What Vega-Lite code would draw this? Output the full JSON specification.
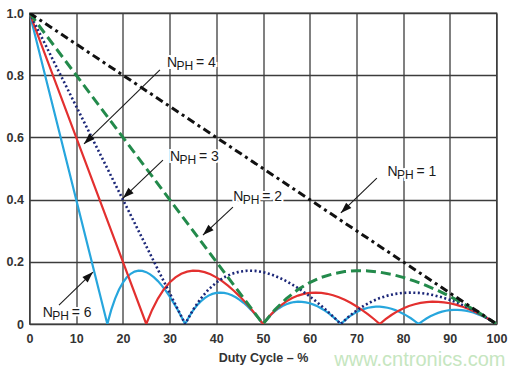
{
"$schema":"https://vega.github.io/schema/vega-lite/v6.json",
"width":467,"height":311,
"autosize":{"type":"none"},
"padding":{"left":29.5,"top":13,"right":25.5,"bottom":51},
"background":"white",
"config":{"view":{"stroke":"#3c3c3c","strokeWidth":1.3},"font":"Liberation Sans"},
"datasets":{
"n1":[{"d":0,"v":1},{"d":100,"v":0}],
"n2":[{"d":0,"v":1},{"d":50,"v":0},{"d":52.5,"v":0.0452},{"d":55,"v":0.0818},{"d":57.5,"v":0.1109},{"d":60,"v":0.1333},{"d":62.5,"v":0.15},{"d":65,"v":0.1615},{"d":67.5,"v":0.1685},{"d":70,"v":0.1714},{"d":72.5,"v":0.1707},{"d":75,"v":0.1667},{"d":77.5,"v":0.1597},{"d":80,"v":0.15},{"d":82.5,"v":0.1379},{"d":85,"v":0.1235},{"d":87.5,"v":0.1071},{"d":90,"v":0.0889},{"d":92.5,"v":0.0689},{"d":95,"v":0.0474},{"d":97.5,"v":0.0244},{"d":100,"v":0}],
"n3":[{"d":0,"v":1},{"d":33.333,"v":0},{"d":35,"v":0.0452},{"d":36.667,"v":0.0818},{"d":38.333,"v":0.1109},{"d":40,"v":0.1333},{"d":41.667,"v":0.15},{"d":43.333,"v":0.1615},{"d":45,"v":0.1685},{"d":46.667,"v":0.1714},{"d":48.333,"v":0.1707},{"d":50,"v":0.1667},{"d":51.667,"v":0.1597},{"d":53.333,"v":0.15},{"d":55,"v":0.1379},{"d":56.667,"v":0.1235},{"d":58.333,"v":0.1071},{"d":60,"v":0.0889},{"d":61.667,"v":0.0689},{"d":63.333,"v":0.0474},{"d":65,"v":0.0244},{"d":66.667,"v":0},
{"d":68.333,"v":0.0232},{"d":70,"v":0.0429},{"d":71.667,"v":0.0593},{"d":73.333,"v":0.0727},{"d":75,"v":0.0833},{"d":76.667,"v":0.0913},{"d":78.333,"v":0.0968},{"d":80,"v":0.1},{"d":81.667,"v":0.101},{"d":83.333,"v":0.1},{"d":85,"v":0.0971},{"d":86.667,"v":0.0923},{"d":88.333,"v":0.0858},{"d":90,"v":0.0778},{"d":91.667,"v":0.0682},{"d":93.333,"v":0.0571},{"d":95,"v":0.0447},{"d":96.667,"v":0.031},{"d":98.333,"v":0.0161},{"d":100,"v":0}],
"n4":[{"d":0,"v":1},{"d":25,"v":0},{"d":26.25,"v":0.0452},{"d":27.5,"v":0.0818},{"d":28.75,"v":0.1109},{"d":30,"v":0.1333},{"d":31.25,"v":0.15},{"d":32.5,"v":0.1615},{"d":33.75,"v":0.1685},{"d":35,"v":0.1714},{"d":36.25,"v":0.1707},{"d":37.5,"v":0.1667},{"d":38.75,"v":0.1597},{"d":40,"v":0.15},{"d":41.25,"v":0.1379},{"d":42.5,"v":0.1235},{"d":43.75,"v":0.1071},{"d":45,"v":0.0889},{"d":46.25,"v":0.0689},{"d":47.5,"v":0.0474},{"d":48.75,"v":0.0244},{"d":50,"v":0},
{"d":51.25,"v":0.0232},{"d":52.5,"v":0.0429},{"d":53.75,"v":0.0593},{"d":55,"v":0.0727},{"d":56.25,"v":0.0833},{"d":57.5,"v":0.0913},{"d":58.75,"v":0.0968},{"d":60,"v":0.1},{"d":61.25,"v":0.101},{"d":62.5,"v":0.1},{"d":63.75,"v":0.0971},{"d":65,"v":0.0923},{"d":66.25,"v":0.0858},{"d":67.5,"v":0.0778},{"d":68.75,"v":0.0682},{"d":70,"v":0.0571},{"d":71.25,"v":0.0447},{"d":72.5,"v":0.031},{"d":73.75,"v":0.0161},{"d":75,"v":0},
{"d":76.25,"v":0.0156},{"d":77.5,"v":0.029},{"d":78.75,"v":0.0405},{"d":80,"v":0.05},{"d":81.25,"v":0.0577},{"d":82.5,"v":0.0636},{"d":83.75,"v":0.0679},{"d":85,"v":0.0706},{"d":86.25,"v":0.0717},{"d":87.5,"v":0.0714},{"d":88.75,"v":0.0697},{"d":90,"v":0.0667},{"d":91.25,"v":0.0623},{"d":92.5,"v":0.0568},{"d":93.75,"v":0.05},{"d":95,"v":0.0421},{"d":96.25,"v":0.0331},{"d":97.5,"v":0.0231},{"d":98.75,"v":0.012},{"d":100,"v":0}],
"n6":[{"d":0,"v":1},{"d":16.667,"v":0},{"d":17.5,"v":0.0452},{"d":18.333,"v":0.0818},{"d":19.167,"v":0.1109},{"d":20,"v":0.1333},{"d":20.833,"v":0.15},{"d":21.667,"v":0.1615},{"d":22.5,"v":0.1685},{"d":23.333,"v":0.1714},{"d":24.167,"v":0.1707},{"d":25,"v":0.1667},{"d":25.833,"v":0.1597},{"d":26.667,"v":0.15},{"d":27.5,"v":0.1379},{"d":28.333,"v":0.1235},{"d":29.167,"v":0.1071},{"d":30,"v":0.0889},{"d":30.833,"v":0.0689},{"d":31.667,"v":0.0474},{"d":32.5,"v":0.0244},{"d":33.333,"v":0},
{"d":34.167,"v":0.0232},{"d":35,"v":0.0429},{"d":35.833,"v":0.0593},{"d":36.667,"v":0.0727},{"d":37.5,"v":0.0833},{"d":38.333,"v":0.0913},{"d":39.167,"v":0.0968},{"d":40,"v":0.1},{"d":40.833,"v":0.101},{"d":41.667,"v":0.1},{"d":42.5,"v":0.0971},{"d":43.333,"v":0.0923},{"d":44.167,"v":0.0858},{"d":45,"v":0.0778},{"d":45.833,"v":0.0682},{"d":46.667,"v":0.0571},{"d":47.5,"v":0.0447},{"d":48.333,"v":0.031},{"d":49.167,"v":0.0161},{"d":50,"v":0},
{"d":50.833,"v":0.0156},{"d":51.667,"v":0.029},{"d":52.5,"v":0.0405},{"d":53.333,"v":0.05},{"d":54.167,"v":0.0577},{"d":55,"v":0.0636},{"d":55.833,"v":0.0679},{"d":56.667,"v":0.0706},{"d":57.5,"v":0.0717},{"d":58.333,"v":0.0714},{"d":59.167,"v":0.0697},{"d":60,"v":0.0667},{"d":60.833,"v":0.0623},{"d":61.667,"v":0.0568},{"d":62.5,"v":0.05},{"d":63.333,"v":0.0421},{"d":64.167,"v":0.0331},{"d":65,"v":0.0231},{"d":65.833,"v":0.012},{"d":66.667,"v":0},
{"d":67.5,"v":0.0117},{"d":68.333,"v":0.022},{"d":69.167,"v":0.0307},{"d":70,"v":0.0381},{"d":70.833,"v":0.0441},{"d":71.667,"v":0.0488},{"d":72.5,"v":0.0523},{"d":73.333,"v":0.0545},{"d":74.167,"v":0.0556},{"d":75,"v":0.0556},{"d":75.833,"v":0.0544},{"d":76.667,"v":0.0522},{"d":77.5,"v":0.0489},{"d":78.333,"v":0.0447},{"d":79.167,"v":0.0395},{"d":80,"v":0.0333},{"d":80.833,"v":0.0263},{"d":81.667,"v":0.0184},{"d":82.5,"v":0.0096},{"d":83.333,"v":0},
{"d":84.167,"v":0.0094},{"d":85,"v":0.0176},{"d":85.833,"v":0.0248},{"d":86.667,"v":0.0308},{"d":87.5,"v":0.0357},{"d":88.333,"v":0.0396},{"d":89.167,"v":0.0425},{"d":90,"v":0.0444},{"d":90.833,"v":0.0454},{"d":91.667,"v":0.0455},{"d":92.5,"v":0.0446},{"d":93.333,"v":0.0429},{"d":94.167,"v":0.0403},{"d":95,"v":0.0368},{"d":95.833,"v":0.0326},{"d":96.667,"v":0.0276},{"d":97.5,"v":0.0218},{"d":98.333,"v":0.0153},{"d":99.167,"v":0.008},{"d":100,"v":0}],
"arrows":[{"n":"4","d":27.93,"v":0.817,"d2":11.67,"v2":0.579},{"n":"3","d":28.57,"v":0.527,"d2":20.03,"v2":0.405},{"n":"2","d":43.56,"v":0.376,"d2":37.14,"v2":0.286},{"n":"1","d":74.38,"v":0.469,"d2":66.67,"v2":0.357},{"n":"6","d":6.31,"v":0.061,"d2":13.59,"v2":0.167}],
"labels":[{"d":29.43,"v":0.839,"k":"= 4"},{"d":30.07,"v":0.537,"k":"= 3"},{"d":43.62,"v":0.408,"k":"= 2"},{"d":76.67,"v":0.489,"k":"= 1"},{"d":2.83,"v":0.035,"k":"= 6"}],
"wm":[{"d":83.6,"v":-0.117,"t":"www.cntronics.com"}]
},
"encoding":{
"x":{"field":"d","type":"quantitative","scale":{"domain":[0,100],"nice":false,"zero":false},
"axis":{"values":[0,10,20,30,40,50,60,70,80,90,100],"title":"Duty Cycle – %","grid":true,"gridColor":"#3c3c3c","gridWidth":1.3,"domain":false,"ticks":false,"tickSize":0,"labelPadding":8,"labelFontSize":12.5,"labelFontWeight":"bold","labelColor":"#333","labelFlush":false,"titleFontSize":12.5,"titleFontWeight":"bold","titleColor":"#333","titlePadding":7}},
"y":{"field":"v","type":"quantitative","scale":{"domain":[0,1],"nice":false},
"axis":{"values":[0,0.2,0.4,0.6,0.8,1],"labelExpr":"datum.value == 0 ? '0' : format(datum.value, '.1f')","title":null,"grid":true,"gridColor":"#3c3c3c","gridWidth":1.3,"domain":false,"ticks":false,"tickSize":0,"labelPadding":6,"labelFontSize":12.5,"labelFontWeight":"bold","labelColor":"#333","labelFlush":false}}
},
"layer":[
{"data":{"name":"n6"},"mark":{"type":"line","color":"#27a6dd","strokeWidth":2.2,"clip":true}},
{"data":{"name":"n4"},"mark":{"type":"line","color":"#e3302f","strokeWidth":2.2,"clip":true}},
{"data":{"name":"n3"},"mark":{"type":"line","color":"#1c2778","strokeWidth":2.6,"strokeDash":[2,2.5],"clip":true}},
{"data":{"name":"n2"},"mark":{"type":"line","color":"#238a4b","strokeWidth":3,"strokeDash":[10,5],"clip":true}},
{"data":{"name":"n1"},"mark":{"type":"line","color":"#111111","strokeWidth":3,"strokeDash":[8,4,3,4],"clip":true}},
{"data":{"name":"arrows"},"mark":{"type":"rule","color":"#1a1a1a","strokeWidth":1.1},"encoding":{"x2":{"field":"d2"},"y2":{"field":"v2"}}},
{"data":{"name":"arrows"},"transform":[{"calculate":"atan2((datum.d2 - datum.d) * 4.67, (datum.v2 - datum.v) * 311) * 180 / PI","as":"ang"}],
 "mark":{"type":"point","shape":"M0,0L-0.75,2.2L0.75,2.2Z","filled":true,"color":"#111111","size":100,"opacity":1,"strokeWidth":0},
 "encoding":{"x":{"field":"d2","type":"quantitative"},"y":{"field":"v2","type":"quantitative"},"angle":{"field":"ang","type":"quantitative","scale":null}}},
{"data":{"name":"labels"},"mark":{"type":"text","text":"N","align":"left","baseline":"middle","fontSize":14,"fill":"white","stroke":"white","strokeWidth":4}},
{"data":{"name":"labels"},"mark":{"type":"text","text":"PH","align":"left","baseline":"middle","fontSize":12,"dx":9.5,"dy":3,"fill":"white","stroke":"white","strokeWidth":4}},
{"data":{"name":"labels"},"mark":{"type":"text","align":"left","baseline":"middle","fontSize":14,"dx":29,"fill":"white","stroke":"white","strokeWidth":4},"encoding":{"text":{"field":"k"}}},
{"data":{"name":"labels"},"mark":{"type":"text","text":"N","align":"left","baseline":"middle","fontSize":14,"color":"#1a1a1a"}},
{"data":{"name":"labels"},"mark":{"type":"text","text":"PH","align":"left","baseline":"middle","fontSize":12,"dx":9.5,"dy":3,"color":"#1a1a1a"}},
{"data":{"name":"labels"},"mark":{"type":"text","align":"left","baseline":"middle","fontSize":14,"dx":29,"color":"#1a1a1a"},"encoding":{"text":{"field":"k"}}},
{"data":{"name":"wm"},"mark":{"type":"text","align":"center","baseline":"middle","fontSize":20,"color":"#c6e6c0"},"encoding":{"text":{"field":"t"}}}
]
}
